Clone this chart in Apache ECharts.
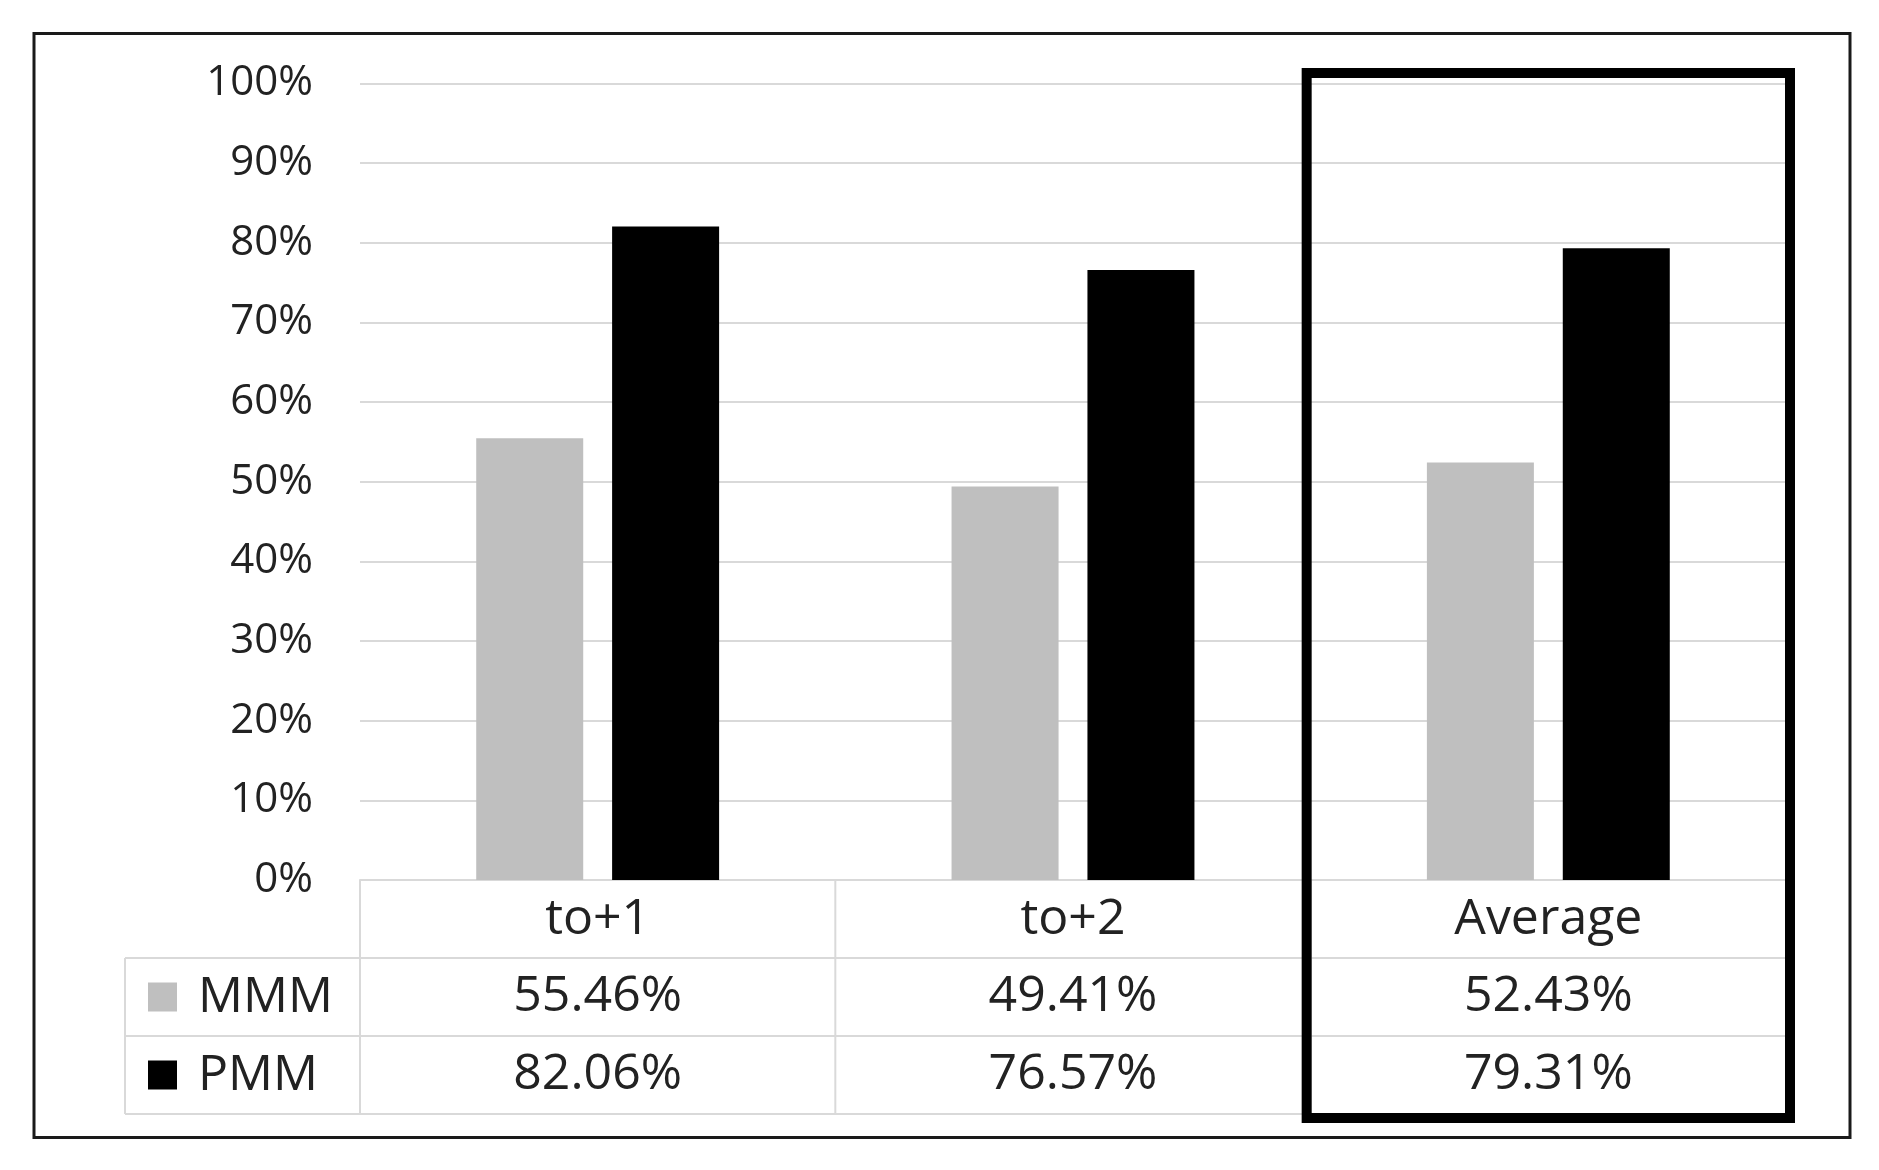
<!DOCTYPE html>
<html><head><meta charset="utf-8">
<script src="https://cdn.jsdelivr.net/npm/echarts@6/dist/echarts.min.js"></script>
<style>html,body{margin:0;padding:0;background:#fff;}#c{width:1879px;height:1170px;}</style>
</head><body><div id="c"></div>
<script>
// ---- data ----
const categories = ['to+1', 'to+2', 'Average'];
const seriesNames = ['MMM', 'PMM'];
const mmmValues = [55.46, 49.41, 52.43];
const pmmValues = [82.06, 76.57, 79.31];
const yTicks = [0, 10, 20, 30, 40, 50, 60, 70, 80, 90, 100];
const highlightCategory = 'Average';

// ---- style ----
const colors = ['#bfbfbf', '#000000'];
const textColor = '#222222';
const lineColor = '#d9d9d9';
const FONT = '"Open Sans", "Noto Sans", sans-serif';
const tableFont = 50;
const rowH = 78;
const valuesBySeries = [mmmValues, pmmValues];
const fmt = v => v.toFixed(2) + '%';

const chart = echarts.init(document.getElementById('c'));

function valueAxis(idx, offset) {
  return {
    type: 'category', data: categories, position: 'bottom', offset: offset,
    axisLine: { show: false }, axisTick: { show: false }, splitLine: { show: false },
    axisLabel: {
      interval: 0, margin: 14, fontSize: tableFont, lineHeight: 50, fontFamily: FONT, color: textColor,
      formatter: (val, i) => fmt(valuesBySeries[idx][categories.indexOf(val)])
    }
  };
}

chart.setOption({
  animation: false,
  backgroundColor: '#fff',
  grid: { left: 360, right: 93, top: 83.5, bottom: 290 },
  xAxis: [
    {
      type: 'category', data: categories,
      axisLine: { show: true, lineStyle: { color: lineColor, width: 2 } },
      axisTick: { show: false },
      axisLabel: { interval: 0, margin: 15, fontSize: tableFont, lineHeight: 50, fontFamily: FONT, color: textColor }
    },
    valueAxis(0, rowH),
    valueAxis(1, rowH * 2)
  ],
  yAxis: {
    type: 'value', min: yTicks[0], max: yTicks[yTicks.length - 1], interval: yTicks[1] - yTicks[0],
    axisLine: { show: false }, axisTick: { show: false },
    splitLine: { lineStyle: { color: lineColor, width: 2 } },
    axisLabel: { margin: 47, fontSize: 42, fontFamily: FONT, color: textColor, formatter: v => v + '%' }
  },
  series: [
    { name: seriesNames[0], type: 'bar', data: mmmValues, barWidth: 107, barGap: '27%',
      itemStyle: { color: colors[0] } },
    { name: seriesNames[1], type: 'bar', data: pmmValues, barWidth: 107, barGap: '27%',
      itemStyle: { color: colors[1] } }
  ]
});

// ---- table lines, legend keys, highlight box ----
const c0 = chart.convertToPixel({ xAxisIndex: 0 }, categories[0]);
const c1 = chart.convertToPixel({ xAxisIndex: 0 }, categories[1]);
const band = c1 - c0;
const bounds = [];
for (let i = 0; i <= categories.length; i++) bounds.push(c0 - band / 2 + i * band);
const yAxisPx = chart.convertToPixel({ yAxisIndex: 0 }, yTicks[0]);
const yTopPx = chart.convertToPixel({ yAxisIndex: 0 }, yTicks[yTicks.length - 1]);
const tableLeft = 125;
const rowsY = [yAxisPx, yAxisPx + rowH, yAxisPx + rowH * 2, yAxisPx + rowH * 3];
const els = [];
const ln = (x1, y1, x2, y2) => els.push({ type: 'line', silent: true,
  shape: { x1, y1, x2, y2 }, style: { stroke: lineColor, lineWidth: 2 } });
for (let r = 1; r < rowsY.length; r++) ln(tableLeft, rowsY[r], bounds[bounds.length - 1], rowsY[r]);
ln(tableLeft, rowsY[1], tableLeft, rowsY[3]);
bounds.forEach(b => ln(b, rowsY[0], b, rowsY[3]));
seriesNames.forEach((name, i) => {
  const cy = (rowsY[i + 1] + rowsY[i + 2]) / 2;
  els.push({ type: 'rect', silent: true, shape: { x: tableLeft + 23, y: cy - 14.5, width: 29, height: 29 },
    style: { fill: colors[i] } });
  els.push({ type: 'text', silent: true, style: { text: name, x: tableLeft + 73, y: cy + 1,
    fill: textColor, fontSize: tableFont, fontFamily: FONT, align: 'left', verticalAlign: 'middle' } });
});
const hi = categories.indexOf(highlightCategory);
els.push({ type: 'rect', silent: true, z: 100,
  shape: { x: bounds[hi] - 4, y: yTopPx - 10.5, width: bounds[hi + 1] - bounds[hi] + 8, height: rowsY[3] + 4 - (yTopPx - 10.5) },
  style: { fill: 'none', stroke: '#000', lineWidth: 10 } });
els.push({ type: 'rect', silent: true, z: 100,
  shape: { x: 34, y: 33.5, width: 1816, height: 1104 },
  style: { fill: 'none', stroke: '#1a1a1a', lineWidth: 3 } });
chart.setOption({ graphic: els });
</script></body></html>
